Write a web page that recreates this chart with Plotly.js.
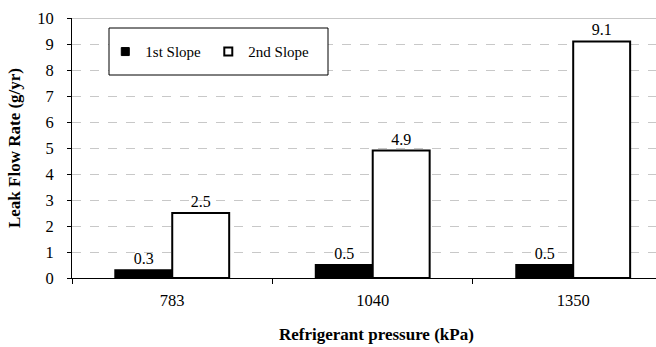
<!DOCTYPE html>
<html>
<head>
<meta charset="utf-8">
<script src="https://cdn.plot.ly/plotly-3.0.1.min.js"></script>
<style>html,body{margin:0;padding:0;background:#fff;}#chart{width:656px;height:347px;}</style>
</head>
<body>
<div id="chart"></div>
<script>
const categories = ["783", "1040", "1350"];
const firstSlope = [0.3, 0.5, 0.5];
const secondSlope = [2.5, 4.9, 9.1];
const seriesNames = ["1st Slope", "2nd Slope"];
const yTicks = [0, 1, 2, 3, 4, 5, 6, 7, 8, 9, 10];
const xTitle = "Refrigerant pressure (kPa)";
const yTitle = "Leak Flow Rate (g/yr)";

const FONT = "'Liberation Serif', 'Times New Roman', serif";

const traces = [
  {
    type: "bar", x: categories, y: firstSlope, name: seriesNames[0],
    marker: {color: "#000", line: {color: "#000", width: 2}},
    text: firstSlope.map(v => v.toFixed(1)), textposition: "outside",
    textfont: {family: FONT, size: 16, color: "#000"}, cliponaxis: false,
    showlegend: false
  },
  {
    type: "bar", x: categories, y: secondSlope, name: seriesNames[1],
    marker: {color: "#fff", line: {color: "#000", width: 2}},
    text: secondSlope.map(v => v.toFixed(1)), textposition: "outside",
    textfont: {family: FONT, size: 16, color: "#000"}, cliponaxis: false,
    showlegend: false
  },
  {
    type: "scatter", mode: "markers", x: [null], y: [null], name: seriesNames[0],
    marker: {symbol: "square", size: 8, color: "#000", line: {color: "#000", width: 1}}
  },
  {
    type: "scatter", mode: "markers", x: [null], y: [null], name: seriesNames[1],
    marker: {symbol: "square", size: 8, color: "#fff", line: {color: "#000", width: 2}}
  }
];

const layout = {
  width: 656, height: 347,
  margin: {l: 72, r: 0, t: 18, b: 69},
  paper_bgcolor: "#fff", plot_bgcolor: "#fff",
  font: {family: FONT, size: 15, color: "#000"},
  barmode: "group", bargap: 0.432, bargroupgap: 0,
  showlegend: true,
  legend: {
    orientation: "h", x: 0.057, y: 0.87, xanchor: "left", yanchor: "middle",
    bgcolor: "rgba(0,0,0,0)", borderwidth: 0,
    font: {family: FONT, size: 15, color: "#000"},
    entrywidth: 58, entrywidthmode: "pixels"
  },
  xaxis: {
    type: "category", range: [-0.5, 2.413],
    showline: true, linecolor: "#000", linewidth: 1,
    ticks: "outside", tickson: "boundaries", ticklen: 5, tickcolor: "#000",
    showgrid: false, zeroline: false,
    tickfont: {family: FONT, size: 16.5, color: "#000"},
    ticklabelstandoff: 7
  },
  yaxis: {
    range: [0, 10], tickvals: yTicks, ticktext: yTicks.map(String),
    showline: true, linecolor: "#000", linewidth: 1,
    ticks: "outside", ticklen: 4, tickcolor: "#000",
    showgrid: true, gridcolor: "#c8c8c8", griddash: "dash", gridwidth: 1,
    zeroline: false,
    tickfont: {family: FONT, size: 16.5, color: "#000"},
    ticklabelstandoff: 10,
    title: {text: yTitle, font: {family: FONT, size: 17, color: "#000", weight: "bold"}, standoff: 12}
  },
  annotations: [
    {text: xTitle, xref: "paper", yref: "paper", x: (376-72)/584, y: (278-334)/260,
     xanchor: "center", yanchor: "middle", showarrow: false,
     font: {family: FONT, size: 17, color: "#000", weight: "bold"}}
  ],
  shapes: [
    {type: "line", xref: "paper", yref: "y", x0: 0, x1: 1, y0: 10, y1: 10, line: {color: "#909090", width: 1}, layer: "above"},
    {type: "rect", xref: "paper", yref: "paper", x0: (109-72)/584, x1: (328-72)/584, y0: (278-75)/260, y1: (278-28)/260,
     fillcolor: "#fff", line: {color: "#000", width: 1}, layer: "above"}
  ]
};

Plotly.newPlot("chart", traces, layout, {displayModeBar: false, staticPlot: true});
</script>
</body>
</html>
